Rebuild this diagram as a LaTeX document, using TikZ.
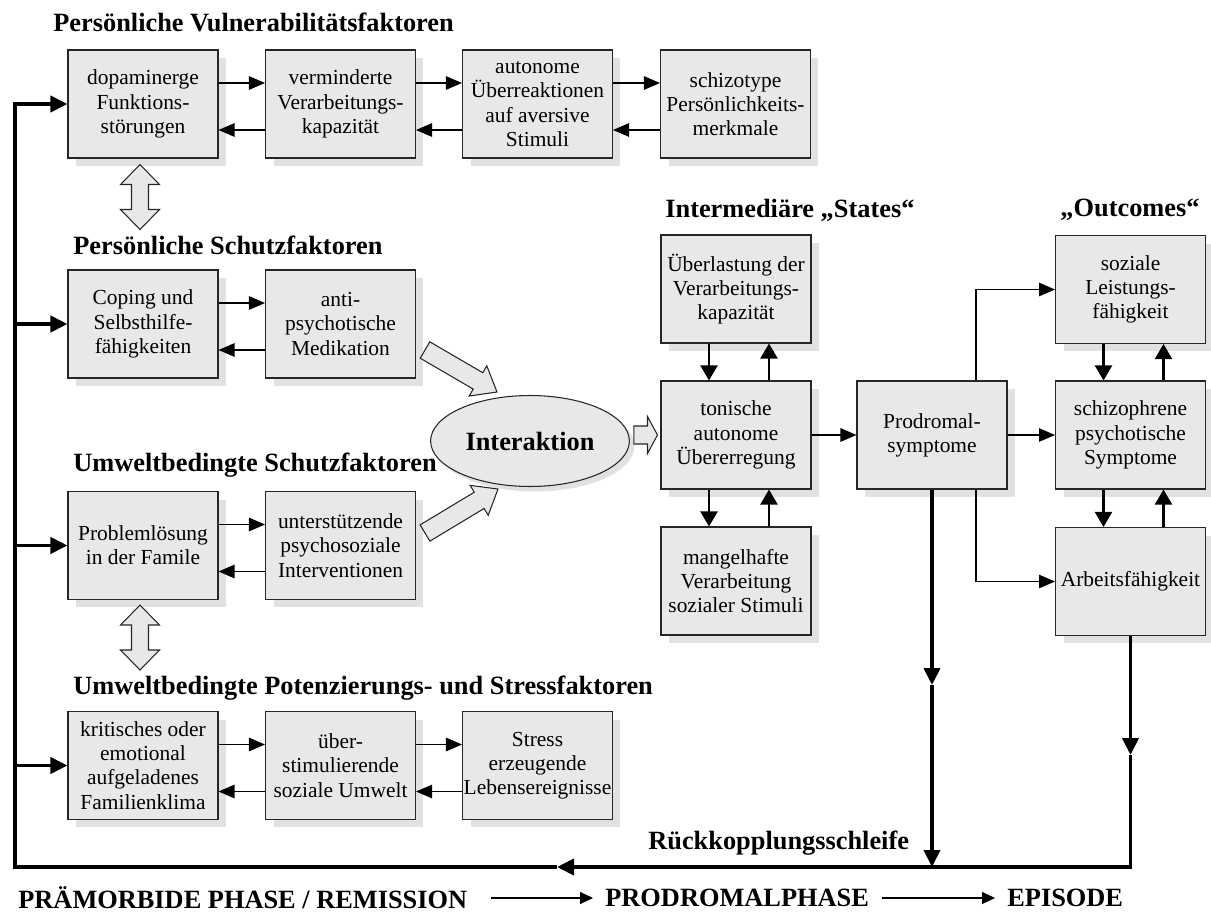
\documentclass[tikz,border=0pt]{standalone}
\usepackage{fontspec}
\setmainfont{Liberation Serif}
\usetikzlibrary{arrows.meta,calc,shapes.geometric,shadows}
\definecolor{boxGray}{HTML}{E8E8E8}
\definecolor{shadowGray}{HTML}{E1E1E1}

% hollow block arrow: tail, tip, half shaft, half head, head length
\newcommand{\blockarrow}[5]{%
  \coordinate (ba-h) at ($(#2)!#5!(#1)$);
  \draw[hollow] ($(#1)!#3!90:(#2)$) -- ($(ba-h)!#3!-90:(#1)$) -- ($(ba-h)!#4!-90:(#1)$)
    -- (#2) -- ($(ba-h)!#4!90:(#1)$) -- ($(ba-h)!#3!90:(#1)$) -- ($(#1)!#3!-90:(#2)$) -- cycle;}
% hollow double arrow: end a, end b, half shaft, half head, head length
\newcommand{\dblarrow}[5]{%
  \coordinate (da-h) at ($(#1)!#5!(#2)$);
  \coordinate (db-h) at ($(#2)!#5!(#1)$);
  \draw[hollow] (#1) -- ($(da-h)!#4!90:(#2)$) -- ($(da-h)!#3!90:(#2)$) -- ($(db-h)!#3!-90:(#1)$)
    -- ($(db-h)!#4!-90:(#1)$) -- (#2) -- ($(db-h)!#4!90:(#1)$) -- ($(db-h)!#3!90:(#1)$)
    -- ($(da-h)!#3!-90:(#2)$) -- ($(da-h)!#4!-90:(#2)$) -- cycle;}

\begin{document}
\begin{tikzpicture}[x=0.02cm,y=-0.02cm]
    \tikzstyle{factorbox}=[draw=black!85, line width=0.6pt, fill=boxGray, minimum width=3cm,
      minimum height=2.16cm, inner sep=0pt, align=center, font=\fontsize{12.2}{13.8}\selectfont,
      drop shadow={shadow xshift=0.16cm, shadow yshift=-0.16cm, fill=shadowGray, opacity=1}]
    \tikzstyle{headline}=[anchor=west, inner sep=0pt, font=\fontsize{15}{18}\selectfont\bfseries]
    \tikzstyle{thinarr}=[line width=0.6pt, -{Triangle[length=0.32cm,width=0.27cm]}]
    \tikzstyle{vertarr}=[line width=1.2pt, -{Triangle[length=0.3cm,width=0.34cm]}]
    \tikzstyle{fbline}=[line width=2.2pt, -{Triangle[length=0.34cm,width=0.32cm]}]
    \tikzstyle{botarr}=[line width=0.6pt, -{Triangle[length=0.26cm,width=0.24cm]}]
    \tikzstyle{hollow}=[draw=black!85, line width=0.6pt, fill=boxGray, line join=miter]

    \useasboundingbox (0,0) rectangle (1211,916);

    \node[headline] (hvuln) at (53,22) {Persönliche Vulnerabilitätsfaktoren};
    \node[headline] (hpschutz) at (73,245) {Persönliche Schutzfaktoren};
    \node[headline] (huschutz) at (73,465) {Umweltbedingte Schutzfaktoren};
    \node[headline] (hstress) at (73,688) {Umweltbedingte Potenzierungs- und Stressfaktoren};
    \node[headline] (hstates) at (665,210) {Intermediäre „States“};
    \node[headline, anchor=center] (houtc) at (1130,210) {„Outcomes“};
    \node[headline] (hrueck) at (648,843) {Rückkopplungsschleife};

    \node[factorbox] (dopa) at (143,104) {dopaminerge\\Funktions-\\störungen};
    \node[factorbox] (verar) at (340.5,104) {verminderte\\Verarbeitungs-\\kapazität};
    \node[factorbox] (autonom) at (537.5,104) {autonome\\Überreaktionen\\auf aversive\\Stimuli};
    \node[factorbox] (schizotyp) at (735.5,104) {schizotype\\Persönlichkeits-\\merkmale};

    \node[factorbox] (coping) at (143,324) {Coping und\\Selbsthilfe-\\fähigkeiten};
    \node[factorbox] (medik) at (340.5,324) {anti-\\psychotische\\Medikation};

    \node[factorbox] (problem) at (143,545.5) {Problemlösung\\in der Famile};
    \node[factorbox] (unterst) at (340.5,545.5) {unterstützende\\psychosoziale\\Interventionen};

    \node[factorbox] (klima) at (143,765.5) {kritisches oder\\emotional\\aufgeladenes\\Familienklima};
    \node[factorbox] (umwelt) at (340.5,765.5) {über-\\stimulierende\\soziale Umwelt};
    \node[factorbox] (stress) at (537.5,765.5) {Stress\\erzeugende\\Lebensereignisse};

    \node[factorbox] (ueberl) at (736,289) {Überlastung der\\Verarbeitungs-\\kapazität};
    \node[factorbox] (tonisch) at (736,435) {tonische\\autonome\\Übererregung};
    \node[factorbox] (mangel) at (736,581) {mangelhafte\\Verarbeitung\\sozialer Stimuli};

    \node[factorbox] (prodrom) at (932,435) {Prodromal-\\symptome};

    \node[factorbox] (sozial) at (1130.5,289.5) {soziale\\Leistungs-\\fähigkeit};
    \node[factorbox] (psychot) at (1130.5,435) {schizophrene\\psychotische\\Symptome};
    \node[factorbox] (arbeit) at (1130.5,581.5) {Arbeitsfähigkeit};

    \node[ellipse, draw=black!85, line width=0.6pt, fill=boxGray, minimum width=3.72cm,
      minimum height=1.82cm, font=\fontsize{15}{18}\selectfont\bfseries,
      drop shadow={shadow xshift=0.1cm, shadow yshift=-0.1cm, fill=shadowGray, opacity=1}]
      (interakt) at (530,441) {Interaktion};

    \foreach \a/\b in {dopa/verar, verar/autonom, autonom/schizotyp, coping/medik,
                       problem/unterst, klima/umwelt, umwelt/stress} {
      \draw[thinarr] ([yshift=0.42cm]\a.east) -- ([yshift=0.42cm]\b.west);
      \draw[thinarr] ([yshift=-0.52cm]\b.west) -- ([yshift=-0.52cm]\a.east);
    }
    \foreach \a/\b in {ueberl/tonisch, tonisch/mangel, sozial/psychot, psychot/arbeit} {
      \draw[vertarr] ([xshift=-0.54cm]\a.south) -- ([xshift=-0.54cm]\b.north);
      \draw[vertarr] ([xshift=0.66cm]\b.north) -- ([xshift=0.66cm]\a.south);
    }
    \draw[thinarr] (tonisch.east) -- (prodrom.west);
    \draw[thinarr] (prodrom.east) -- (psychot.west);
    \draw[thinarr] ([xshift=0.88cm]prodrom.north) |- (sozial.west);
    \draw[thinarr] ([xshift=0.88cm]prodrom.south) |- (arbeit.west);

    \coordinate (lb) at (15,867);
    \coordinate (rb) at (1130.5,867);
    \coordinate (bm) at (557,867);
    \coordinate (am) at (1130.5,755);
    \coordinate (pm) at (932,685);
    \draw[fbline] (arbeit.south) -- (am);
    \draw[fbline] (am) -- (rb) -- (bm);
    \draw[fbline] (bm) -- (lb) |- (dopa.west);
    \draw[fbline] (lb |- coping.west) -- (coping.west);
    \draw[fbline] (lb |- problem.west) -- (problem.west);
    \draw[fbline] (lb |- klima.west) -- (klima.west);
    \draw[fbline] (prodrom.south) -- (pm);
    \draw[fbline] (pm) -- (prodrom.south |- lb);

    \coordinate (mtail) at ($(medik.east)+(9,26)$);
    \coordinate (mtip) at ($(interakt)+(-33,-49)$);
    \coordinate (utail) at ($(unterst.east)+(9,-12.5)$);
    \coordinate (utip) at ($(interakt)+(-32,48)$);
    \coordinate (itail) at ($(interakt.east)+(4,-6)$);
    \coordinate (itip) at ($(tonisch.west)+(-3,0)$);
    \blockarrow{mtail}{mtip}{0.19cm}{0.35cm}{0.44cm}
    \blockarrow{utail}{utip}{0.19cm}{0.35cm}{0.44cm}
    \blockarrow{itail}{itip}{0.18cm}{0.37cm}{0.2cm}

    \coordinate (d1a) at ($(dopa.south)+(-3,6)$);
    \coordinate (d1b) at ($(dopa.south)+(-3,71)$);
    \coordinate (d2a) at ($(problem.south)+(-3,5)$);
    \coordinate (d2b) at ($(problem.south)+(-3,70)$);
    \dblarrow{d1a}{d1b}{0.17cm}{0.39cm}{0.4cm}
    \dblarrow{d2a}{d2b}{0.17cm}{0.39cm}{0.4cm}

    \node[headline] (lphase1) at (18,898) {PRÄMORBIDE PHASE / REMISSION};
    \node[headline] (lphase2) at (605,898) {PRODROMALPHASE};
    \node[headline] (lphase3) at (1007,898) {EPISODE};
    \draw[botarr, shorten <=0.46cm, shorten >=0.24cm] (lphase1.east) -- (lphase2.west);
    \draw[botarr, shorten <=0.26cm, shorten >=0.24cm] (lphase2.east) -- (lphase3.west);
\end{tikzpicture}
\end{document}
